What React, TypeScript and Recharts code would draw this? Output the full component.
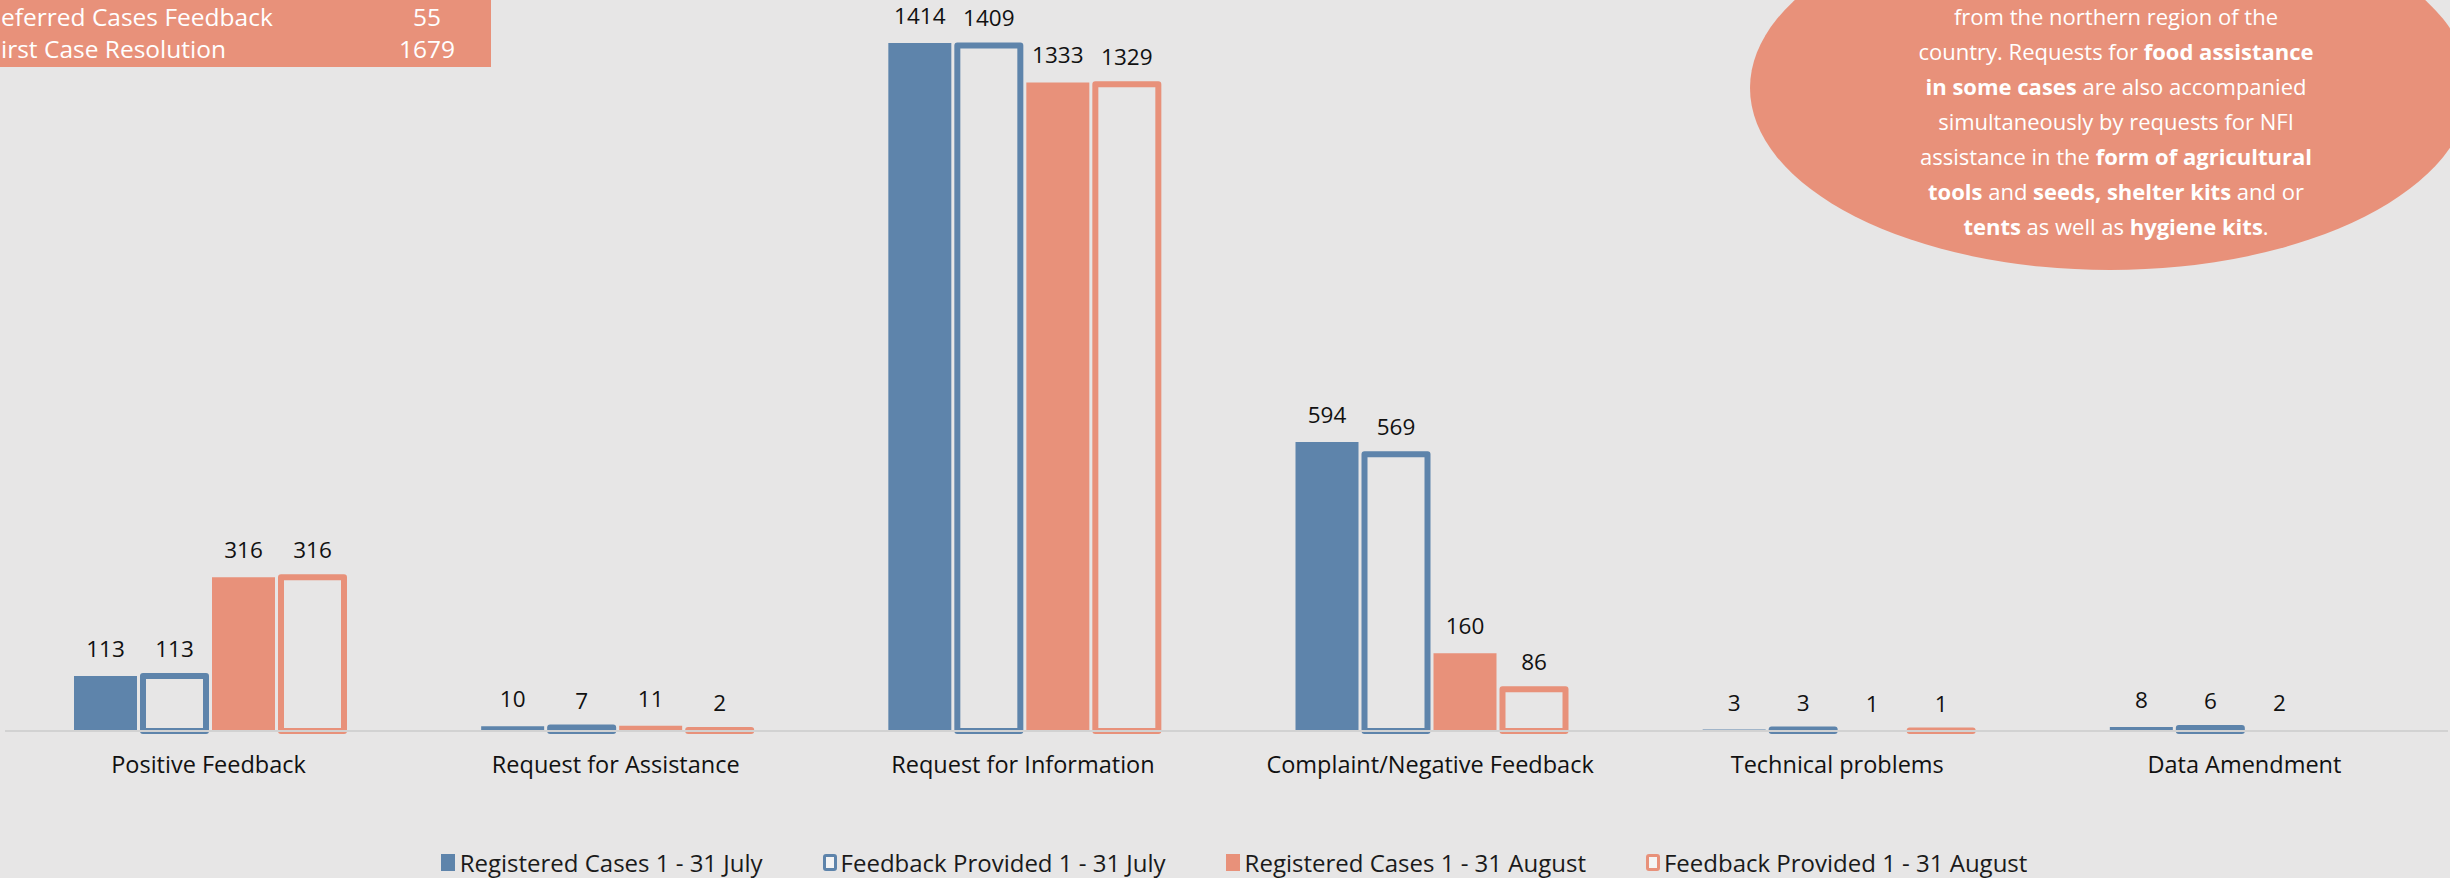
import React from 'react';
import { BarChart, Bar, XAxis, YAxis, Legend, LabelList } from 'recharts';

const W = 2450;
const H = 878;
const BLUE = '#5E84AB';
const ORANGE = '#E8917A';
const BG = '#E7E6E6';
const FONT = "'Open Sans', sans-serif";

const categories = [
  'Positive Feedback',
  'Request for Assistance',
  'Request for Information',
  'Complaint/Negative Feedback',
  'Technical problems',
  'Data Amendment',
];
const registeredJuly = [113, 10, 1414, 594, 3, 8];
const feedbackJuly = [113, 7, 1409, 569, 3, 6];
const registeredAugust = [316, 11, 1333, 160, 1, 2];
const feedbackAugust: (number | null)[] = [316, 2, 1329, 86, 1, null];

const seriesNames = [
  'Registered Cases 1 - 31 July',
  'Feedback Provided 1 - 31 July',
  'Registered Cases 1 - 31 August',
  'Feedback Provided 1 - 31 August',
];

// visible part of the (cropped) summary table, as shown in the picture
const tableRows = [
  { label: 'eferred Cases Feedback', value: '55' },
  { label: 'irst Case Resolution', value: '1679' },
];

const noteLines: [string, boolean][][] = [
  [['from the northern region of the', false]],
  [['country. Requests for ', false], ['food assistance', true]],
  [['in some cases', true], [' are also accompanied', false]],
  [['simultaneously by requests for NFI', false]],
  [['assistance in the ', false], ['form of agricultural', true]],
  [['tools', true], [' and ', false], ['seeds, shelter kits', true], [' and or', false]],
  [['tents', true], [' as well as ', false], ['hygiene kits', true], ['.', false]],
];

const data = categories.map((name, i) => ({
  name,
  rj: registeredJuly[i],
  fj: feedbackJuly[i],
  ra: registeredAugust[i],
  fa: feedbackAugust[i],
}));

const OutlineBar = (color: string) => (props: any) => {
  const { x, y, width, height } = props;
  if (x == null || y == null || !width || height == null || isNaN(height)) return null;
  return (
    <rect
      x={x}
      y={y}
      width={width}
      height={Math.max(height, 0)}
      fill="none"
      stroke={color}
      strokeWidth={6}
      strokeLinejoin="round"
    />
  );
};

const legendItems = [
  { name: seriesNames[0], color: BLUE, outline: false },
  { name: seriesNames[1], color: BLUE, outline: true },
  { name: seriesNames[2], color: ORANGE, outline: false },
  { name: seriesNames[3], color: ORANGE, outline: true },
];

const renderLegend = () => (
  <div
    style={{
      display: 'flex',
      justifyContent: 'center',
      alignItems: 'center',
      gap: 60,
      paddingLeft: 18,
      fontFamily: FONT,
      fontSize: 24,
      color: '#1a1a1a',
      height: 32,
    }}
  >
    {legendItems.map((it) => (
      <div key={it.name} style={{ display: 'flex', alignItems: 'center' }}>
        {it.outline ? (
          <span
            style={{
              display: 'inline-block',
              width: 8,
              height: 11,
              border: `3px solid ${it.color}`,
              borderRadius: 3,
              background: '#F4F4F4',
              marginRight: 4,
            }}
          />
        ) : (
          <span
            style={{
              display: 'inline-block',
              width: 14,
              height: 17,
              background: it.color,
              marginRight: 5,
            }}
          />
        )}
        <span>{it.name}</span>
      </div>
    ))}
  </div>
);

const labelStyle = { fill: '#111', fontSize: 22.5, fontFamily: FONT };

export default function App() {
  return (
    <div style={{ position: 'absolute', left: 0, top: 0, width: W, height: H, background: BG, overflow: 'hidden' }}>
      <BarChart
        width={W}
        height={H}
        data={data}
        margin={{ top: 43, right: 2, left: 5, bottom: 85 }}
        barSize={63}
        barGap={6}
      >
        <XAxis
          dataKey="name"
          height={30}
          interval={0}
          axisLine={{ stroke: '#D2D2D2', strokeWidth: 2 }}
          tickLine={false}
          tickMargin={19}
          tick={{ fontSize: 23.5, fill: '#111', fontFamily: FONT }}
        />
        <YAxis hide domain={[0, 1414]} />
        <Legend
          verticalAlign="bottom"
          content={renderLegend}
          wrapperStyle={{ left: 0, top: 846, bottom: 'auto', width: W, height: 32 }}
        />
        <Bar dataKey="rj" name={seriesNames[0]} fill={BLUE} isAnimationActive={false}>
          <LabelList dataKey="rj" position="top" offset={19} style={labelStyle} />
        </Bar>
        <Bar dataKey="fj" name={seriesNames[1]} fill="none" shape={OutlineBar(BLUE)} isAnimationActive={false}>
          <LabelList dataKey="fj" position="top" offset={19} style={labelStyle} />
        </Bar>
        <Bar dataKey="ra" name={seriesNames[2]} fill={ORANGE} isAnimationActive={false}>
          <LabelList dataKey="ra" position="top" offset={19} style={labelStyle} />
        </Bar>
        <Bar dataKey="fa" name={seriesNames[3]} fill="none" shape={OutlineBar(ORANGE)} isAnimationActive={false}>
          <LabelList dataKey="fa" position="top" offset={19} style={labelStyle} />
        </Bar>
      </BarChart>
      <svg
        width={W}
        height={H}
        style={{ position: 'absolute', left: 0, top: 0, pointerEvents: 'none' }}
      >
        <rect x={0} y={0} width={491} height={67} fill={ORANGE} />
        {tableRows.map((r, i) => (
          <g key={r.label} fontFamily={FONT} fontSize={24.5} fill="#fff">
            <text x={1} y={i === 0 ? 26 : 58} textAnchor="start">
              {r.label}
            </text>
            <text x={427} y={i === 0 ? 26 : 58} textAnchor="middle">
              {r.value}
            </text>
          </g>
        ))}
        <ellipse cx={2110} cy={88} rx={360} ry={182} fill={ORANGE} />
        {noteLines.map((line, i) => (
          <text
            key={i}
            x={2116}
            y={25 + i * 35}
            textAnchor="middle"
            fontFamily={FONT}
            fontSize={22}
            fill="#fff"
            style={{ whiteSpace: 'pre' }}
          >
            {line.map(([t, b], j) => (
              <tspan key={j} fontWeight={b ? 700 : 400}>
                {t}
              </tspan>
            ))}
          </text>
        ))}
      </svg>
    </div>
  );
}
